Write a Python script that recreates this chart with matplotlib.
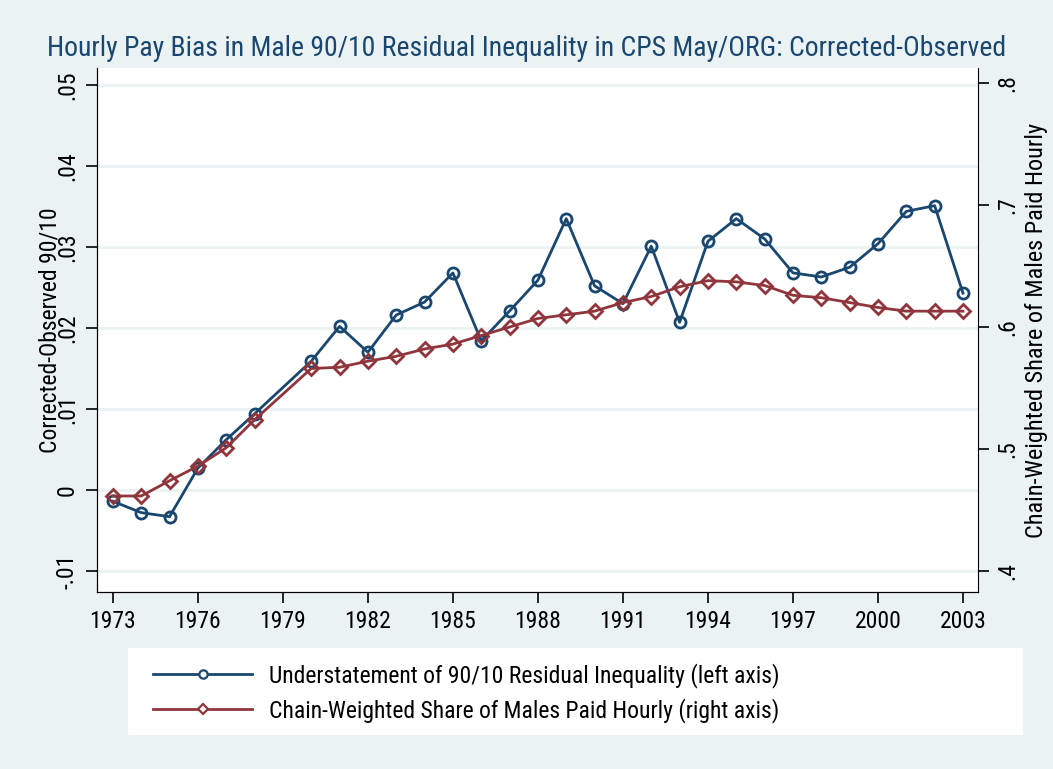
import matplotlib.pyplot as plt
import matplotlib.font_manager as fm
from matplotlib.lines import Line2D
from matplotlib.patches import Rectangle

years = [1973, 1974, 1975, 1976, 1977, 1978, 1980, 1981, 1982, 1983, 1984,
         1985, 1986, 1987, 1988, 1989, 1990, 1991, 1992, 1993, 1994, 1995,
         1996, 1997, 1998, 1999, 2000, 2001, 2002, 2003]
understatement = [-0.0014, -0.0028, -0.0033, 0.0027, 0.0062, 0.0094, 0.0159,
                  0.0202, 0.0170, 0.0216, 0.0232, 0.0268, 0.0184, 0.0221,
                  0.0259, 0.0335, 0.0252, 0.0230, 0.0301, 0.0207, 0.0307,
                  0.0335, 0.0310, 0.0268, 0.0263, 0.0275, 0.0304, 0.0344,
                  0.0351, 0.0243]
hourly_share = [0.4615, 0.4615, 0.474, 0.486, 0.501, 0.524, 0.566, 0.567,
                0.572, 0.576, 0.582, 0.586, 0.593, 0.600, 0.607, 0.610,
                0.613, 0.620, 0.625, 0.633, 0.638, 0.637, 0.634, 0.626,
                0.624, 0.620, 0.616, 0.613, 0.613, 0.613]
x_ticks = list(range(1973, 2004, 3))
left_ticks = [-0.01, 0, 0.01, 0.02, 0.03, 0.04, 0.05]
left_labels = ["-.01", "0", ".01", ".02", ".03", ".04", ".05"]
right_ticks = [0.4, 0.5, 0.6, 0.7, 0.8]
right_labels = [".4", ".5", ".6", ".7", ".8"]
series_names = ["Understatement of 90/10 Residual Inequality (left axis)",
                "Chain-Weighted Share of Males Paid Hourly (right axis)"]

# narrow sans face, close to Stata's Arial Narrow look
def pick_narrow():
    prefs = ["liberationsansnarrow-regular", "robotocondensed-regular",
             "archivonarrow", "dejavusanscondensed.ttf"]
    files = [f for f in fm.fontManager.ttflist if f.style == "normal"]
    for p in prefs:
        for f in files:
            if p in f.fname.lower().replace("_", "").replace(" ", ""):
                return f
    return None

nf = pick_narrow()
if nf is not None:
    plt.rcParams["font.family"] = [nf.name, "DejaVu Sans"]
    plt.rcParams["font.stretch"] = nf.stretch
    plt.rcParams["font.weight"] = "normal"

BLUE = "#1a476f"
RED = "#90353b"
BG = "#eaf2f3"
FS = 17

fig = plt.figure(figsize=(10.53, 7.69), dpi=100, facecolor=BG)
ax = fig.add_axes([97 / 1053, 1 - 592 / 769, (978 - 97) / 1053, (592 - 68) / 769])
ax.set_facecolor("white")
ax2 = ax.twinx()

ax.plot(years, understatement, color=BLUE, lw=2, marker="o", ms=8,
        mfc="none", mec=BLUE, mew=2)
ax2.plot(years, hourly_share, color=RED, lw=2, marker="D", ms=7.5,
         mfc="none", mec=RED, mew=2)

ax.set_xlim(1972.44, 2003.53)
ax.set_ylim(-0.0126, 0.0521)
ax2.set_ylim(0.3828, 0.8123)

ax.set_xticks(x_ticks)
ax.set_xticklabels([str(y) for y in x_ticks], fontsize=FS)
ax.set_yticks(left_ticks)
ax.set_yticklabels(left_labels, fontsize=FS, rotation=90, va="center")
ax2.set_yticks(right_ticks)
ax2.set_yticklabels(right_labels, fontsize=FS, rotation=90, va="center")

ax.grid(axis="y", color=BG, lw=2)
ax.set_axisbelow(True)
for a in (ax, ax2):
    a.spines["top"].set_visible(False)
    a.tick_params(length=8, width=1.2, direction="out", pad=5)
ax.spines["right"].set_visible(False)

ax.set_ylabel("Corrected-Observed 90/10", fontsize=FS)
ax.yaxis.label.set_va("center")
ax.yaxis.set_label_coords((50 - 97) / 881, 0.5)
ax2.set_ylabel("Chain-Weighted Share of Males Paid Hourly", fontsize=FS + 0.5)
ax2.yaxis.label.set_va("center")
ax2.yaxis.set_label_coords((1037 - 97) / 881, 0.5)

fig.text(0.5, 1 - 48 / 769, "Hourly Pay Bias in Male 90/10 Residual Inequality in CPS May/ORG: Corrected-Observed",
         ha="center", va="center", fontsize=20, color=BLUE)

# white legend panel spanning most of the width, entries at the left
fig.patches.append(Rectangle((128 / 1053, 1 - 735 / 769), (1023 - 128) / 1053, 87 / 769,
                             transform=fig.transFigure, facecolor="white",
                             edgecolor="none", zorder=0))
handles = [Line2D([], [], color=BLUE, lw=2, marker="o", ms=6, mfc="white",
                  mec=BLUE, mew=1.6),
           Line2D([], [], color=RED, lw=2, marker="D", ms=5.5, mfc="white",
                  mec=RED, mew=1.6)]
fig.legend(handles, series_names, loc="center left",
           bbox_to_anchor=(132 / 1053, 1 - 693 / 769),
           fontsize=FS, frameon=False, handlelength=4.2, handletextpad=0.7,
           labelspacing=0.45)

fig.savefig("out.png", dpi=100, facecolor=BG)
